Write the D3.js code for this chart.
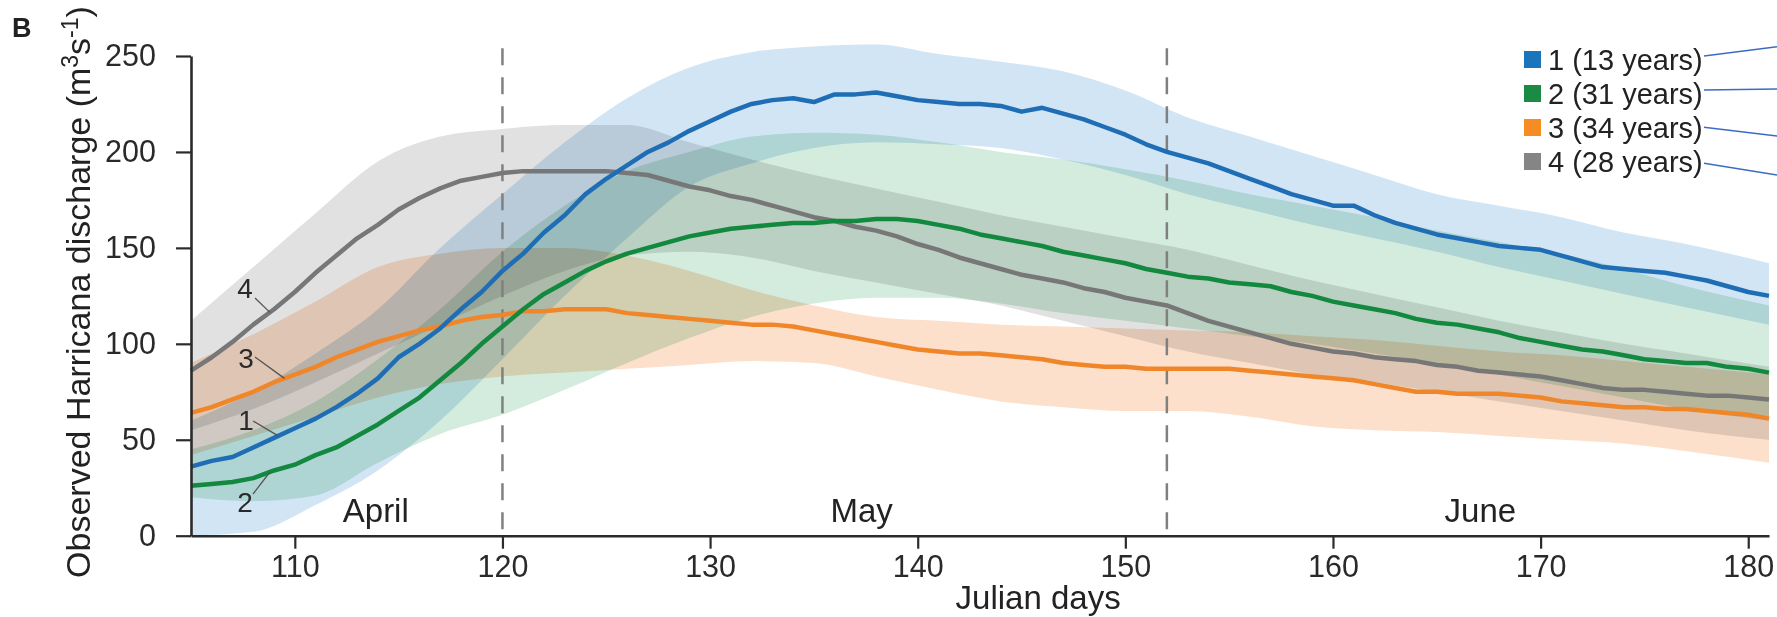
<!DOCTYPE html>
<html>
<head>
<meta charset="utf-8">
<script src="https://cdn.jsdelivr.net/npm/d3@7"></script>
<style>
  html, body { margin: 0; padding: 0; background: #fff; }
  svg { display: block; font-family: "Liberation Sans", Arial, sans-serif; }
</style>
</head>
<body>
<svg id="chart" width="1777" height="617"></svg>
<script>
// Daily mean discharge per cluster, Julian days 105–181
const days = d3.range(105, 182);
const cluster1 = [36,39,41,46,51,56,61,67,74,82,93,100,108,118,127,138,147,158,167,178,186,193,200,205,211,216,221,225,227,228,226,230,230,231,229,227,226,225,225,224,221,223,220,217,213,209,204,200,197,194,190,186,182,178,175,172,172,167,163,160,157,155,153,151,150,149,146,143,140,139,138,137,135,133,130,127,125];
const cluster2 = [26,27,28,30,34,37,42,46,52,58,65,72,81,90,100,109,118,126,132,138,143,147,150,153,156,158,160,161,162,163,163,164,164,165,165,164,162,160,157,155,153,151,148,146,144,142,139,137,135,134,132,131,130,127,125,122,120,118,116,113,111,110,108,106,103,101,99,97,96,94,92,91,90,90,88,87,85];
const cluster3 = [64,67,71,75,80,84,88,93,97,101,104,107,109,112,114,115,117,117,118,118,118,116,115,114,113,112,111,110,110,109,107,105,103,101,99,97,96,95,95,94,93,92,90,89,88,88,87,87,87,87,87,86,85,84,83,82,81,79,77,75,75,74,74,74,73,72,70,69,68,67,67,66,66,65,64,63,61];
const cluster4 = [86,93,101,110,118,127,137,146,155,162,170,176,181,185,187,189,190,190,190,190,190,189,188,185,182,180,177,175,172,169,166,164,161,159,156,152,149,145,142,139,136,134,132,129,127,124,122,120,116,112,109,106,103,100,98,96,95,93,92,91,89,88,86,85,84,83,81,79,77,76,76,75,74,73,73,72,71];

// Spread envelopes around each cluster mean
const bandDays = [105,108,111,114,117,120,123,126,129,132,135,138,141,144,147,150,153,156,159,162,165,168,171,174,177,181];
const lower1 = [0,2,16,34,60,92,125,155,182,194,202,205,204,202,196,188,178,170,162,155,148,140,133,126,119,110];
const upper1 = [60,75,95,118,150,178,205,228,244,252,255,256,251,247,242,232,218,208,198,188,178,172,166,158,152,142];
const lower2 = [20,18,21,38,53,63,76,90,103,114,121,124,124,121,116,112,108,104,100,95,90,84,78,72,66,60];
const upper2 = [45,55,70,92,118,148,172,190,200,208,210,209,205,200,196,191,185,178,172,166,159,153,147,139,130,120];
const lower3 = [42,52,62,72,79,83,85,87,89,91,90,83,76,70,67,65,65,62,57,55,54,52,50,48,44,38];
const upper3 = [90,105,122,140,147,150,150,146,138,128,120,114,112,110,109,108,107,106,104,102,99,96,94,91,88,84];
const lower4 = [55,66,80,95,110,125,138,146,148,145,138,132,126,120,112,104,96,90,84,80,75,70,65,60,55,50];
const upper4 = [112,140,168,195,208,212,214,214,205,196,188,181,174,167,161,155,149,141,133,126,119,112,106,100,95,88];

const legendLabels = ["1 (13 years)", "2 (31 years)", "3 (34 years)", "4 (28 years)"];
const yTicks = [0, 50, 100, 150, 200, 250];
const xTicks = [110, 120, 130, 140, 150, 160, 170, 180];
const monthBoundaries = [120, 152];
const months = ["April", "May", "June"];
const monthLabelDays = [113.9, 137.3, 167.1];

const lineColors = ["#1f6eb5", "#12893e", "#ef872a", "#777777"];
const bandColors = ["#d2e5f5", "#d3ecdd", "#fde0cb", "#e1e1e1"];
const swatchColors = ["#1b75bb", "#1a8a44", "#f58d23", "#858585"];

const svg = d3.select("#chart");
svg.append("rect").attr("width", 1777).attr("height", 617).attr("fill", "#fff");

const x = d3.scaleLinear().domain([105, 181]).range([191, 1769]);
const y = d3.scaleLinear().domain([0, 250]).range([535.7, 56]);

const means = [cluster1, cluster2, cluster3, cluster4];
const lowers = [lower1, lower2, lower3, lower4];
const uppers = [upper1, upper2, upper3, upper4];

// Envelopes, blended so overlaps darken like stacked transparencies
const area = d3.area()
  .x(d => x(d.day)).y0(d => y(d.lo)).y1(d => y(d.hi))
  .curve(d3.curveMonotoneX);
const bandG = svg.append("g");
[3, 2, 1, 0].forEach(i => {
  const rows = bandDays.map((d, k) => ({ day: d, lo: lowers[i][k], hi: uppers[i][k] }));
  bandG.append("path")
    .attr("d", area(rows))
    .attr("fill", bandColors[i])
    .style("mix-blend-mode", "multiply");
});

// Month boundaries
svg.append("g").selectAll("line").data(monthBoundaries).join("line")
  .attr("x1", d => x(d)).attr("x2", d => x(d))
  .attr("y1", y(254)).attr("y2", y(0))
  .attr("stroke", "#808080").attr("stroke-width", 2.5)
  .attr("stroke-dasharray", "17,12");

// Mean lines
const line = d3.line().x((d, k) => x(days[k])).y(d => y(d));
const lineG = svg.append("g").attr("fill", "none").attr("stroke-width", 4.5)
  .attr("stroke-linejoin", "round");
[2, 3, 1, 0].forEach(i => {
  lineG.append("path").attr("d", line(means[i])).attr("stroke", lineColors[i]);
});

// Axes
const axisColor = "#2b2b2b";
const yAxis = svg.append("g").attr("transform", `translate(${x(105)},0)`)
  .call(d3.axisLeft(y).tickValues(yTicks).tickSize(15).tickSizeOuter(0).tickPadding(20));
const xAxis = svg.append("g").attr("transform", `translate(0,${y(0)})`)
  .call(d3.axisBottom(x).tickValues(xTicks).tickSize(13).tickSizeOuter(0).tickPadding(7));
[yAxis, xAxis].forEach(g => {
  g.select(".domain").attr("stroke", axisColor).attr("stroke-width", 2.6);
  g.selectAll(".tick line").attr("stroke", axisColor).attr("stroke-width", 2.2);
  g.selectAll(".tick text").attr("fill", "#2a2a2a").attr("font-size", 30.5)
    .attr("font-family", "'Liberation Sans', Arial, sans-serif");
});

// Month names
svg.append("g").selectAll("text").data(months).join("text")
  .attr("x", (d, i) => x(monthLabelDays[i])).attr("y", 522)
  .attr("text-anchor", "middle").attr("font-size", 33).attr("fill", "#222")
  .text(d => d);

// Cluster labels on the rising limb, with leaders to their curves
const tagSpots = [
  { id: "1", series: 0, tx: 246, ty: 430, sx: 253, sy: 421, day: 109.2 },
  { id: "2", series: 1, tx: 245, ty: 512, sx: 253, sy: 494, day: 108.8 },
  { id: "3", series: 2, tx: 246, ty: 368, sx: 255, sy: 357, day: 109.5 },
  { id: "4", series: 3, tx: 245, ty: 298, sx: 255, sy: 298, day: 108.8 }
];
const valueAt = (arr, d) => {
  const k = Math.floor(d) - 105, f = d - Math.floor(d);
  return arr[k] + (arr[k + 1] - arr[k]) * f;
};
const tagG = svg.append("g");
tagSpots.forEach(t => {
  tagG.append("line")
    .attr("x1", t.sx).attr("y1", t.sy)
    .attr("x2", x(t.day)).attr("y2", y(valueAt(means[t.series], t.day)))
    .attr("stroke", "#555").attr("stroke-width", 1.3);
  tagG.append("text").attr("x", t.tx).attr("y", t.ty)
    .attr("text-anchor", "middle").attr("font-size", 28).attr("fill", "#2a2a2a")
    .text(t.id);
});

// Axis titles
svg.append("text").attr("x", x(145.8)).attr("y", 609)
  .attr("text-anchor", "middle").attr("font-size", 33).attr("fill", "#222")
  .text("Julian days");

const yTitle = svg.append("text")
  .attr("transform", "translate(90,292) rotate(-90)")
  .attr("text-anchor", "middle").attr("font-size", 34).attr("fill", "#222");
yTitle.append("tspan").text("Observed Harricana discharge (m");
yTitle.append("tspan").attr("dy", -12).attr("font-size", 23).text("3");
yTitle.append("tspan").attr("dy", 12).text("s");
yTitle.append("tspan").attr("dy", -12).attr("font-size", 23).text("-1");
yTitle.append("tspan").attr("dy", 12).text(")");

// Panel letter
svg.append("text").attr("x", 12).attr("y", 37)
  .attr("font-size", 27).attr("font-weight", "bold").attr("fill", "#222").text("B");

// Legend
const legendG = svg.append("g");
legendLabels.forEach((lab, i) => {
  const cy = 59.5 + i * 34;
  legendG.append("rect").attr("x", 1524).attr("y", cy - 8.5)
    .attr("width", 17).attr("height", 17).attr("fill", swatchColors[i]);
  legendG.append("text").attr("x", 1548).attr("y", cy).attr("dy", "0.35em")
    .attr("font-size", 29).attr("fill", "#222").text(lab);
});
// Connectors running off to the right edge
const connectorEnds = [[56, 46.7], [90, 89], [127.3, 136], [163.3, 175]];
legendG.selectAll("line.conn").data(connectorEnds).join("line")
  .attr("class", "conn")
  .attr("x1", 1704).attr("y1", d => d[0])
  .attr("x2", 1777).attr("y2", d => d[1])
  .attr("stroke", "#3b6cc4").attr("stroke-width", 1.5);
</script>
</body>
</html>
